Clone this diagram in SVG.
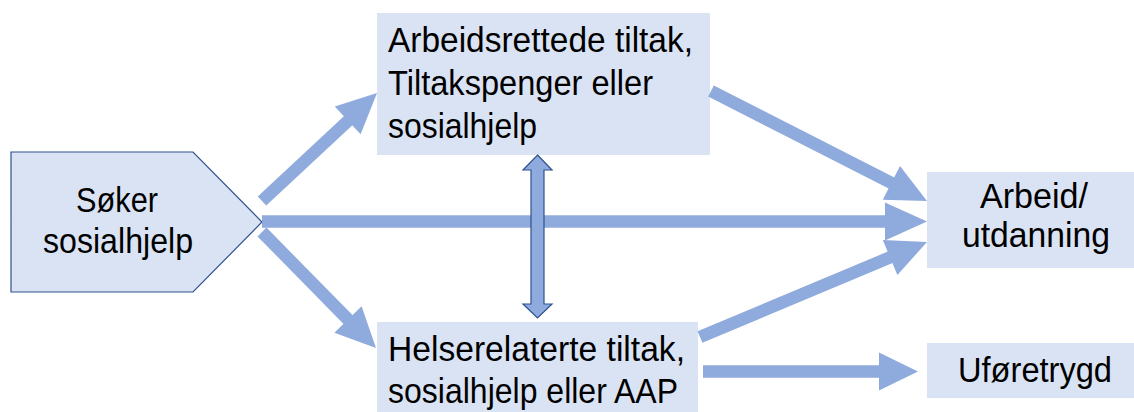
<svg xmlns="http://www.w3.org/2000/svg" width="1134" height="412" viewBox="0 0 1134 412">
<style>
.box{fill:#dae3f3;stroke:none}
.pent{fill:#dae3f3;stroke:#2f528f;stroke-width:1.2}
.t{font-family:"Liberation Sans",Arial,sans-serif;font-size:35px;fill:#000}
.c{text-anchor:middle}
.shaft{stroke:#8faadc;stroke-width:12.5;fill:none}
.head{fill:#8faadc;stroke:none}
.dbl{fill:#8faadc;stroke:#2f528f;stroke-width:1.2}
</style>
<rect x="0" y="0" width="1134" height="412" fill="#ffffff"/>
<g id="soker">
<polygon class="pent" points="11,152 193,152 262,222 193,292 11,292"/>
<text class="t c" x="117" y="212" textLength="82" lengthAdjust="spacingAndGlyphs">Søker</text>
<text class="t c" x="118" y="253" textLength="150" lengthAdjust="spacingAndGlyphs">sosialhjelp</text>
</g>
<g id="arbeidsrettede">
<rect class="box" x="377" y="13" width="333" height="142"/>
<text class="t" x="388" y="52" textLength="305" lengthAdjust="spacingAndGlyphs">Arbeidsrettede tiltak,</text>
<text class="t" x="388" y="95" textLength="265" lengthAdjust="spacingAndGlyphs">Tiltakspenger eller</text>
<text class="t" x="388" y="138" textLength="149" lengthAdjust="spacingAndGlyphs">sosialhjelp</text>
</g>
<g id="helserelaterte">
<rect class="box" x="377" y="322" width="321" height="92"/>
<text class="t" x="388" y="361" textLength="297" lengthAdjust="spacingAndGlyphs">Helserelaterte tiltak,</text>
<text class="t" x="388" y="403" textLength="290" lengthAdjust="spacingAndGlyphs">sosialhjelp eller AAP</text>
</g>
<g id="arbeid">
<rect class="box" x="927" y="172" width="207" height="96"/>
<text class="t c" x="1034" y="208" textLength="108" lengthAdjust="spacingAndGlyphs">Arbeid/</text>
<text class="t c" x="1036" y="247" textLength="148" lengthAdjust="spacingAndGlyphs">utdanning</text>
</g>
<g id="uforetrygd">
<rect class="box" x="927" y="343" width="207" height="55"/>
<text class="t c" x="1035" y="382" textLength="154" lengthAdjust="spacingAndGlyphs">Uføretrygd</text>
</g>
<g id="connectors">
<line class="shaft" x1="262" y1="201" x2="350" y2="119"/>
<polygon class="head" points="377,93 360.6,134.2 334.8,106.4"/>
<line class="shaft" x1="262" y1="221.5" x2="887" y2="221.5"/>
<polygon class="head" points="927,221.5 885,202.5 885,240.5"/>
<line class="shaft" x1="711" y1="91" x2="893" y2="183.7"/>
<polygon class="head" points="927,201 882.8,199.7 900,165.9"/>
<line class="shaft" x1="700" y1="337" x2="892" y2="256.6"/>
<polygon class="head" points="927,242 897.4,275 882.8,239.9"/>
<line class="shaft" x1="703" y1="371.5" x2="881" y2="371.5"/>
<polygon class="head" points="918,371.5 879,352.5 879,390.5"/>
<line class="shaft" x1="262" y1="232" x2="349.5" y2="321"/>
<polygon class="head" points="376,348 334.4,332.8 361.6,306.2"/>
<polygon class="dbl" points="537.5,155 552,170 544,170 544,304 552,304 537.5,318 523,304 531,304 531,170 523,170"/>
</g>
</svg>
